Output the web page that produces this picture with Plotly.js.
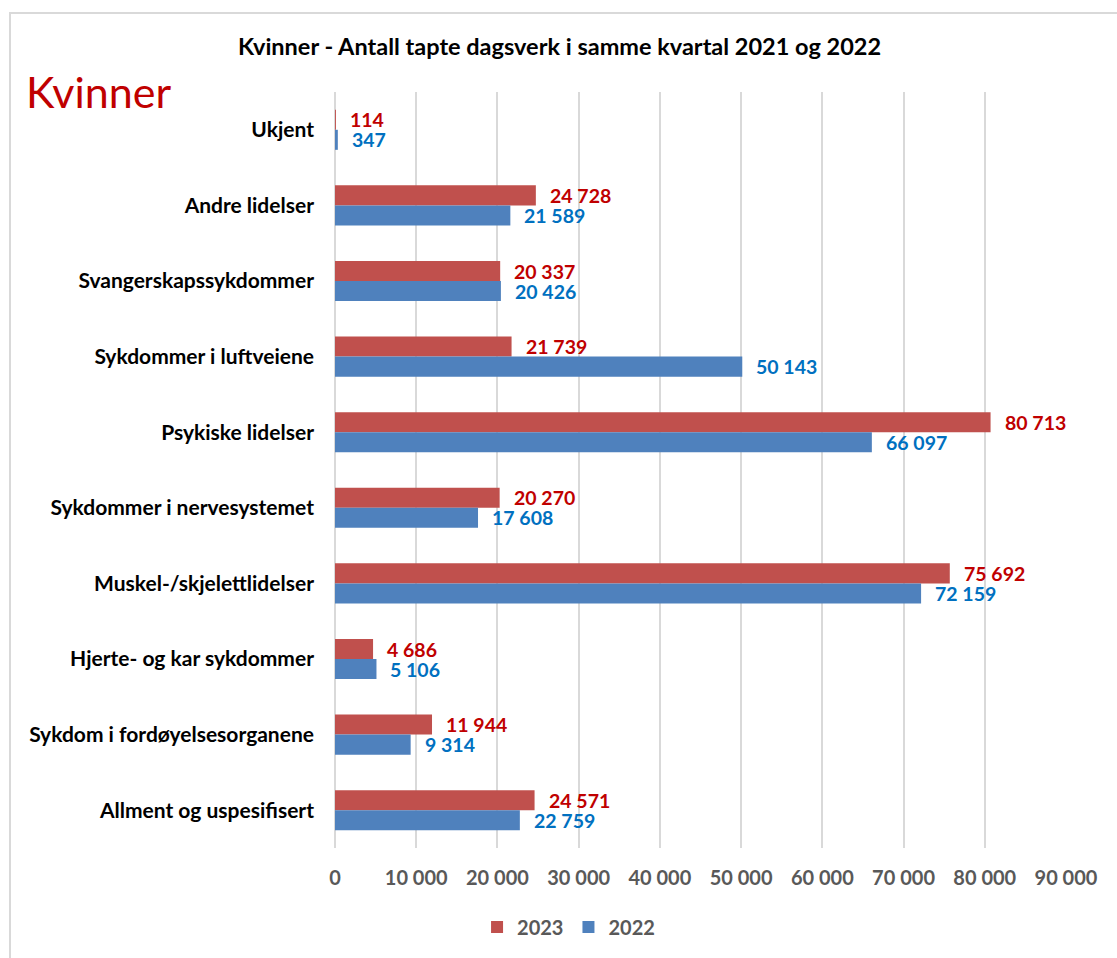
<!DOCTYPE html>
<html><head><meta charset="utf-8">
<script src="https://cdn.plot.ly/plotly-3.0.1.min.js"></script>
<style>
html,body{margin:0;padding:0;background:#fff;}
#chart{width:1117px;height:958px;position:absolute;left:0;top:0;}
#frame{position:absolute;left:9px;top:12px;width:1200px;height:1100px;border:2px solid #d9d9d9;pointer-events:none;}
</style></head>
<body>
<div id="chart"></div>
<div id="frame"></div>
<script>
const categories = ["Ukjent","Andre lidelser","Svangerskapssykdommer","Sykdommer i luftveiene","Psykiske lidelser","Sykdommer i nervesystemet","Muskel-/skjelettlidelser","Hjerte- og kar sykdommer","Sykdom i fordøyelsesorganene","Allment og uspesifisert"];
const values2023 = [114,24728,20337,21739,80713,20270,75692,4686,11944,24571];
const values2022 = [347,21589,20426,50143,66097,17608,72159,5106,9314,22759];
const tickVals = [0,10000,20000,30000,40000,50000,60000,70000,80000,90000];

const fmt = v => String(v).replace(/\B(?=(\d{3})+(?!\d))/g, " ");
const FONT = "Lato, 'Open Sans', sans-serif";

const traces = [
  {type:"bar", orientation:"h", name:"2023", y:categories, x:values2023, marker:{color:"#C0504D"}, hoverinfo:"x+y"},
  {type:"bar", orientation:"h", name:"2022", y:categories, x:values2022, marker:{color:"#4F81BD"}, hoverinfo:"x+y"}
];

const annotations = [];
categories.forEach((c,i)=>{
  annotations.push({x:values2023[i], y:c, xref:"x", yref:"y", text:fmt(values2023[i]), showarrow:false, xanchor:"left", yanchor:"middle", xshift:12, yshift:10, font:{family:FONT, size:19.5, color:"#C00000", weight:"bold"}});
  annotations.push({x:values2022[i], y:c, xref:"x", yref:"y", text:fmt(values2022[i]), showarrow:false, xanchor:"left", yanchor:"middle", xshift:12, yshift:-10, font:{family:FONT, size:19.5, color:"#0070C0", weight:"bold"}});
});
annotations.push({text:"Kvinner", xref:"paper", yref:"paper", x:-0.425, y:1.0, xanchor:"left", yanchor:"bottom", yshift:-27, showarrow:false, font:{family:FONT, size:43, color:"#C00000"}});

const layout = {
  width:1117, height:958,
  margin:{l:335, r:51, t:92, b:110},
  paper_bgcolor:"#fff", plot_bgcolor:"#fff",
  separators:", ",
  font:{family:FONT},
  title:{text:"Kvinner - Antall tapte dagsverk i samme kvartal 2021 og 2022", font:{family:FONT, size:23.5, color:"#000", weight:"bold"}, xref:"container", x:0.501, yref:"container", y:1-47/958, yanchor:"middle", xanchor:"center"},
  barmode:"group", bargap:0.47, bargroupgap:0,
  xaxis:{range:[0,90000], tickvals:tickVals, tickformat:",d", showgrid:true, gridcolor:"#D9D9D9", gridwidth:2, zeroline:true, zerolinecolor:"#D9D9D9", zerolinewidth:2, showline:false, ticks:"", ticklabelstandoff:16, tickfont:{family:FONT, size:20, color:"#595959", weight:"bold"}, fixedrange:true},
  yaxis:{type:"category", autorange:"reversed", showgrid:false, zeroline:false, showline:false, ticks:"", ticklabelstandoff:20, tickfont:{family:FONT, size:21, color:"#000", weight:"bold"}, fixedrange:true},
  showlegend:true,
  legend:{orientation:"h", xref:"container", x:0.509, xanchor:"center", yref:"container", y:1-927/958, yanchor:"middle", font:{family:FONT, size:20, color:"#595959", weight:"bold"}, traceorder:"normal"},
  annotations:annotations
};
Plotly.newPlot("chart", traces, layout, {displayModeBar:false, staticPlot:true});
</script>
</body></html>
